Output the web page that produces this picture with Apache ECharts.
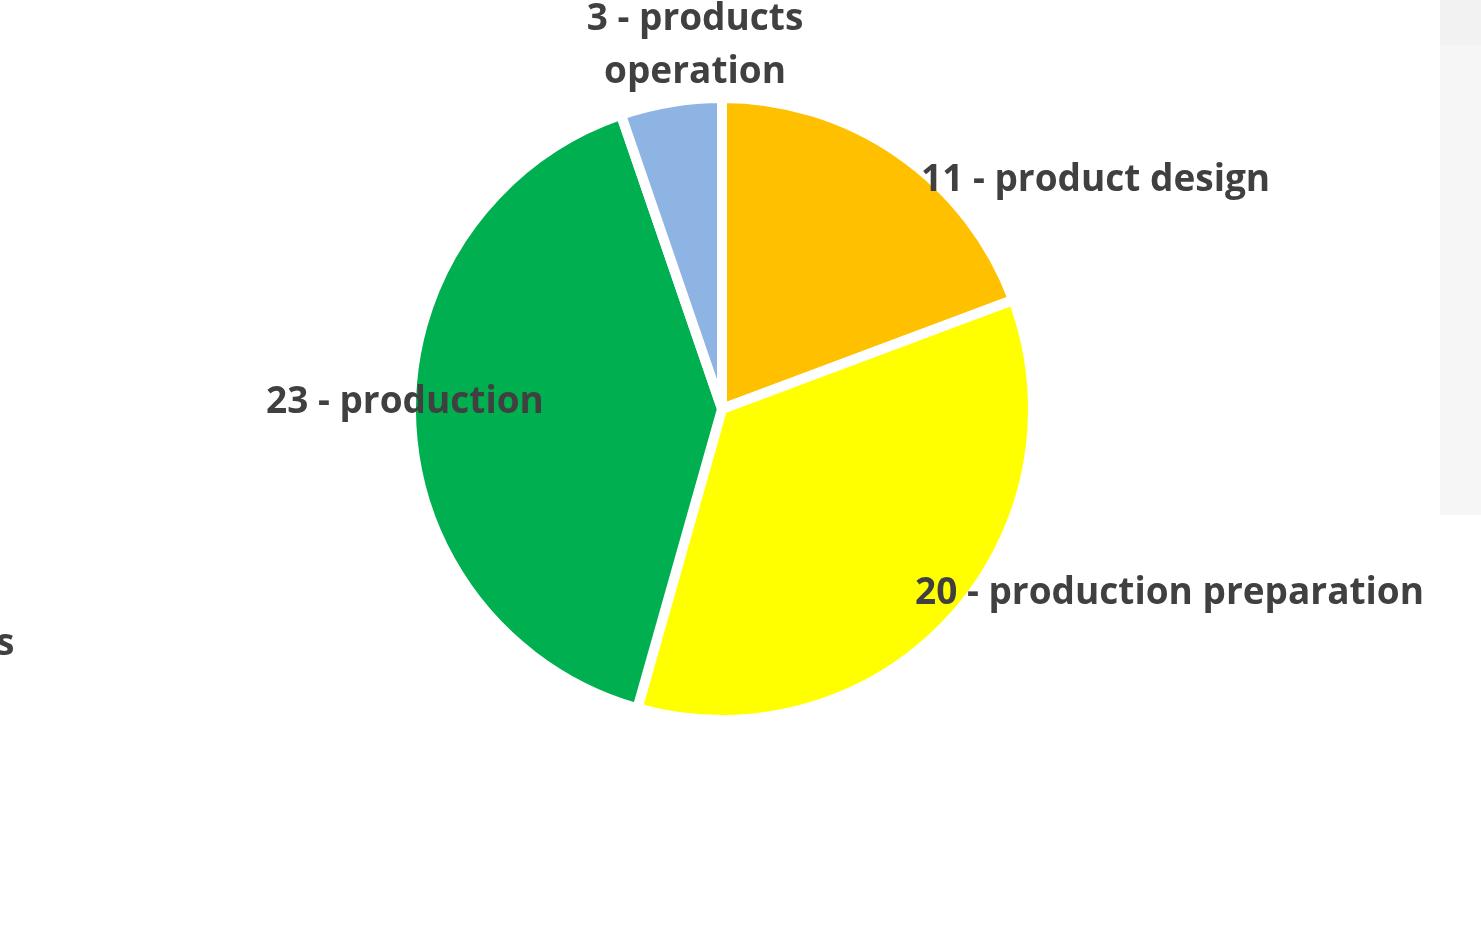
<!DOCTYPE html>
<html>
<head>
<meta charset="utf-8">
<script src="https://cdn.jsdelivr.net/npm/echarts@6/dist/echarts.min.js"></script>
<style>
    html, body { margin: 0; padding: 0; background: #fff; }
    #pieChart { width: 1481px; height: 937px; }
</style>
</head>
<body>
<div id="pieChart"></div>
<script>
// 阶段分布 - 饼图
var categories = ['product design', 'production preparation', 'production', 'products operation']
var values = [11, 20, 23, 3]
var colors = ['#FFC000', '#FFFF00', '#00B050', '#8EB4E3']

// 标签位置（文字位置，不是扇区坐标）
var labelPos = [
    { x: 921, y: 180, align: 'left' },
    { x: 915, y: 593, align: 'left' },
    { x: 266, y: 402, align: 'left' },
    { x: 695, y: 46, align: 'center' }
]

var dom = document.getElementById('pieChart')
var myChart = echarts.init(dom)

function getData() {
    return {
        animation: false,
        textStyle: {
            fontFamily: 'Open Sans'
        },
        graphic: [
            {
                type: 'rect',
                shape: { x: 1440, y: 0, width: 41, height: 515 },
                style: { fill: '#f6f6f6' },
                silent: true
            },
            {
                type: 'rect',
                shape: { x: 1440, y: 0, width: 41, height: 45 },
                style: { fill: '#f2f2f2' },
                silent: true
            },
            {
                type: 'text',
                left: -4,
                top: 626,
                style: {
                    text: 's',
                    fill: '#404040',
                    font: 'bold 37px "Open Sans"'
                }
            }
        ],
        series: [
            {
                type: 'pie',
                center: [722, 409],
                radius: 311,
                startAngle: 90,
                clockwise: true,
                itemStyle: {
                    borderColor: '#fff',
                    borderWidth: 10
                },
                label: {
                    show: true,
                    position: 'inside',
                    overflow: 'none',
                    color: '#404040',
                    fontFamily: 'Open Sans',
                    fontSize: 37,
                    fontWeight: 'bold',
                    lineHeight: 53,
                    formatter: function (p) {
                        if (p.dataIndex === 3) return '3 - products\noperation'
                        return p.value + ' - ' + p.name
                    }
                },
                labelLine: { show: false },
                labelLayout: function (params) {
                    var pos = labelPos[params.dataIndex]
                    return {
                        x: pos.x,
                        y: pos.y,
                        align: pos.align,
                        verticalAlign: 'middle'
                    }
                },
                data: categories.map(function (name, i) {
                    return {
                        name: name,
                        value: values[i],
                        itemStyle: { color: colors[i] }
                    }
                })
            }
        ]
    }
}

myChart.setOption(getData())
</script>
</body>
</html>
